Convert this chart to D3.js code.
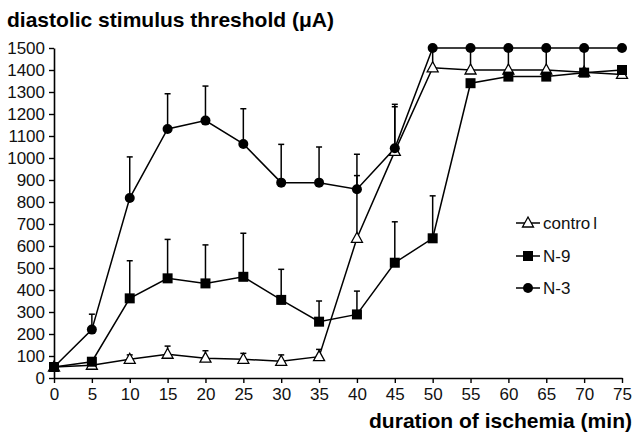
<!DOCTYPE html>
<html>
<head>
<meta charset="utf-8">
<script src="https://cdn.jsdelivr.net/npm/d3@7"></script>
<style>
	body { margin: 0; background: #fff; }
	svg { display: block; font-family: "Liberation Sans", Arial, sans-serif; }
</style>
</head>
<body>
<div id="chart"></div>
<script>
// data
// ----------------------------------------
var minutes = [0, 5, 10, 15, 20, 25, 30, 35, 40, 45, 50, 55, 60, 65, 70, 75];
var yTicks = [0, 100, 200, 300, 400, 500, 600, 700, 800, 900, 1000, 1100, 1200, 1300, 1400, 1500];

var control = [50, 58, 85, 108, 90, 85, 76, 97, 635, 1030, 1410, 1400, 1400, 1400, 1390, 1380];
var controlErr = [null, null, 105, 145, 124, 112, 105, 130, 920, 1233, 1495, 1495, null, null, null, null];

var n9 = [50, 74, 362, 453, 430, 460, 355, 256, 289, 524, 635, 1340, 1370, 1370, 1388, 1400];
var n9Err = [null, null, 533, 630, 605, 658, 494, 350, 395, 710, 828, null, 1495, 1495, 1495, null];

var n3 = [50, 220, 818, 1132, 1170, 1064, 888, 888, 858, 1044, 1500, 1500, 1500, 1500, 1500, 1500];
var n3Err = [null, 290, 1005, 1292, 1327, 1224, 1062, 1050, 1017, 1244, null, null, null, null, null, null];

var series = [
	{name: "control", values: control, err: controlErr, shape: "triangle"},
	{name: "N-9", values: n9, err: n9Err, shape: "square"},
	{name: "N-3", values: n3, err: n3Err, shape: "circle"}
];

// main variables
// ----------------------------------------
var width = 636, height = 433;
var margin = {top: 48, right: 14, bottom: 55, left: 54};

var svg = d3.select("#chart")
	.append("svg")
	.attr("width", width)
	.attr("height", height);

var x = d3.scaleLinear().domain([0, 75]).range([margin.left, width - margin.right]);
var y = d3.scaleLinear().domain([0, 1500]).range([height - margin.bottom, margin.top]);

function styleAxis(g){
	g.select(".domain").attr("stroke-width", 1.6);
	g.selectAll(".tick line").attr("stroke-width", 1.4);
	g.selectAll("text").attr("font-size", 17).attr("fill", "#111")
		.attr("font-family", "Liberation Sans, Arial, sans-serif");
}

// axes
svg.append("g")
	.attr("transform", "translate(" + margin.left + ",0)")
	.call(d3.axisLeft(y).tickValues(yTicks).tickFormat(d3.format("d"))
		.tickSize(5).tickPadding(4).tickSizeOuter(0))
	.call(styleAxis);

svg.append("g")
	.attr("transform", "translate(0," + (height - margin.bottom) + ")")
	.call(d3.axisBottom(x).tickValues(minutes).tickFormat(d3.format("d"))
		.tickSize(5).tickPadding(5).tickSizeOuter(0))
	.call(styleAxis);

// titles
svg.append("text")
	.attr("x", 7).attr("y", 27)
	.attr("font-size", 20.5).attr("font-weight", "bold")
	.attr("textLength", 327).attr("lengthAdjust", "spacingAndGlyphs")
	.text("diastolic stimulus threshold (μA)");

svg.append("text")
	.attr("x", 632).attr("y", 428)
	.attr("text-anchor", "end")
	.attr("font-size", 21).attr("font-weight", "bold")
	.attr("textLength", 263).attr("lengthAdjust", "spacingAndGlyphs")
	.text("duration of ischemia (min)");

// markers
function drawMarker(g, shape, cx, cy){
	if (shape == "circle") {
		g.append("circle").attr("cx", cx).attr("cy", cy).attr("r", 5).attr("fill", "#000");
	} else if (shape == "square") {
		g.append("rect").attr("x", cx - 5).attr("y", cy - 5).attr("width", 10).attr("height", 10).attr("fill", "#000");
	} else {
		g.append("path")
			.attr("d", "M" + cx + "," + (cy - 6) + "L" + (cx + 5.5) + "," + (cy + 4) + "L" + (cx - 5.5) + "," + (cy + 4) + "Z")
			.attr("fill", "#fff").attr("stroke", "#000").attr("stroke-width", 1.3);
	}
}

var line = d3.line()
	.x(function(d, i){ return x(minutes[i]); })
	.y(function(d){ return y(d); });

var plot = svg.append("g");

series.forEach(function(s){
	plot.append("path")
		.datum(s.values)
		.attr("d", line)
		.attr("fill", "none")
		.attr("stroke", "#000")
		.attr("stroke-width", 1.5);
});

// error bars (upper only)
series.forEach(function(s){
	s.err.forEach(function(e, i){
		if (e == null) return;
		var cx = x(minutes[i]);
		plot.append("line")
			.attr("x1", cx).attr("x2", cx)
			.attr("y1", y(s.values[i])).attr("y2", y(e))
			.attr("stroke", "#000").attr("stroke-width", 1.5);
		plot.append("line")
			.attr("x1", cx - 3).attr("x2", cx + 3)
			.attr("y1", y(e)).attr("y2", y(e))
			.attr("stroke", "#000").attr("stroke-width", 1.5);
	});
});

series.forEach(function(s){
	var g = plot.append("g");
	s.values.forEach(function(v, i){
		drawMarker(g, s.shape, x(minutes[i]), y(v));
	});
});

// legend
var legendY = [223, 256, 288];
series.forEach(function(s, i){
	var g = svg.append("g");
	g.append("line")
		.attr("x1", 516).attr("x2", 540)
		.attr("y1", legendY[i]).attr("y2", legendY[i])
		.attr("stroke", "#000").attr("stroke-width", 1.5);
	drawMarker(g, s.shape, 528, legendY[i]);
	var t = g.append("text")
		.attr("x", 543).attr("y", legendY[i] + 6)
		.attr("font-size", 17).attr("fill", "#111");
	if (s.name == "control") {
		t.append("tspan").text("contro");
		t.append("tspan").attr("dx", 3).text("l");
	} else {
		t.text(s.name);
	}
});
</script>
</body>
</html>
